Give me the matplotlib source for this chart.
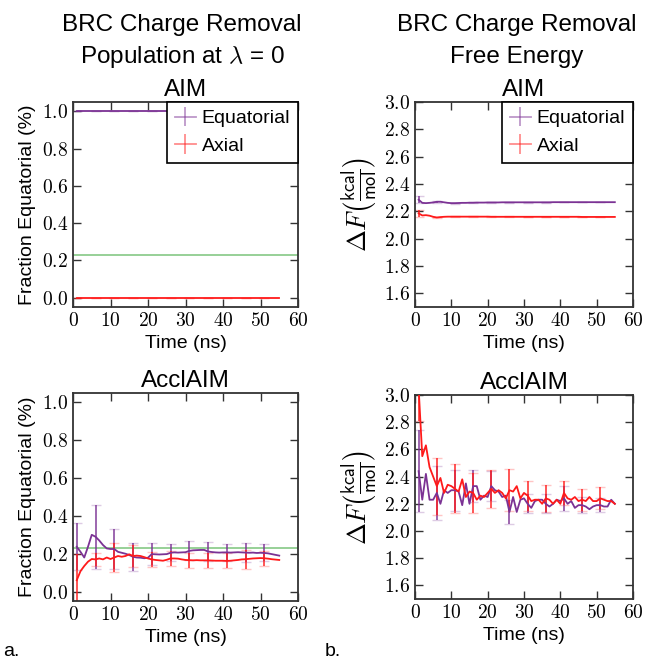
import numpy as np
import matplotlib
matplotlib.use('Agg')
import matplotlib.pyplot as plt
from matplotlib.ticker import FormatStrFormatter, MultipleLocator

plt.rcParams['font.family'] = ['Liberation Sans', 'DejaVu Sans']
plt.rcParams['mathtext.fontset'] = 'cm'

# time axis (ns)
time_ns = np.arange(1, 56)
err_step = 5

# reference fraction (green line)
ref_fraction = 0.228

# --- AIM population ---
aim_pop_eq = [1.0] * 55
aim_pop_ax = [0.0] * 55

# --- AcclAIM population ---
accl_pop_eq = [0.237, 0.21, 0.18, 0.237, 0.30, 0.29, 0.27, 0.246, 0.228, 0.225,
               0.225, 0.21, 0.205, 0.20, 0.193, 0.184, 0.18, 0.179, 0.176, 0.179,
               0.198, 0.197, 0.196, 0.197, 0.198, 0.205, 0.207, 0.206, 0.207, 0.208,
               0.215, 0.218, 0.219, 0.22, 0.22, 0.212, 0.209, 0.207, 0.206, 0.207,
               0.207, 0.206, 0.207, 0.208, 0.207, 0.206, 0.205, 0.206, 0.204, 0.205,
               0.204, 0.202, 0.198, 0.194, 0.19]
accl_pop_ax = [0.06, 0.108, 0.135, 0.158, 0.172, 0.17, 0.175, 0.17, 0.18, 0.172,
               0.18, 0.188, 0.184, 0.188, 0.197, 0.188, 0.19, 0.188, 0.182, 0.175,
               0.17, 0.167, 0.165, 0.163, 0.168, 0.175, 0.175, 0.174, 0.17, 0.167,
               0.166, 0.165, 0.166, 0.165, 0.165, 0.165, 0.164, 0.163, 0.163, 0.163,
               0.162, 0.163, 0.165, 0.167, 0.17, 0.171, 0.173, 0.175, 0.176, 0.177,
               0.176, 0.174, 0.171, 0.169, 0.167]
accl_pop_eq_err = [0.125, 0.17, 0.105, 0.075, 0.06, 0.045, 0.05, 0.048, 0.045, 0.05, 0.045]
accl_pop_ax_err = [0.14, 0.035, 0.078, 0.06, 0.04, 0.038, 0.04, 0.038, 0.04, 0.05, 0.04]

# --- AIM free energy ---
aim_fe_eq = [2.285, 2.262, 2.26, 2.262, 2.265, 2.27, 2.27, 2.266, 2.262, 2.26,
             2.26, 2.261, 2.262, 2.262, 2.263, 2.263, 2.264, 2.264, 2.264, 2.265,
             2.265, 2.265, 2.265, 2.266, 2.266, 2.266, 2.266, 2.266, 2.266, 2.266,
             2.266, 2.266, 2.266, 2.266, 2.266, 2.266, 2.266, 2.267, 2.267, 2.267,
             2.267, 2.267, 2.267, 2.267, 2.267, 2.267, 2.267, 2.267, 2.267, 2.267,
             2.267, 2.267, 2.267, 2.267, 2.267]
aim_fe_ax = [2.185, 2.17, 2.172, 2.168, 2.16, 2.155, 2.158, 2.16, 2.161, 2.161,
             2.161, 2.161, 2.161, 2.161, 2.161, 2.161, 2.161, 2.161, 2.161, 2.161,
             2.16, 2.16, 2.16, 2.16, 2.16, 2.16, 2.16, 2.16, 2.16, 2.16,
             2.16, 2.16, 2.16, 2.16, 2.16, 2.16, 2.16, 2.16, 2.16, 2.16,
             2.16, 2.16, 2.16, 2.16, 2.16, 2.159, 2.159, 2.159, 2.159, 2.159,
             2.159, 2.159, 2.159, 2.159, 2.159]
aim_fe_eq_err = [0.025, 0.006, 0.004, 0.003, 0.003, 0.003, 0.002, 0.002, 0.002, 0.002, 0.002]
aim_fe_ax_err = [0.025, 0.006, 0.004, 0.003, 0.003, 0.003, 0.002, 0.002, 0.002, 0.002, 0.002]

# --- AcclAIM free energy ---
accl_fe_eq = [2.44, 2.23, 2.42, 2.23, 2.23, 2.28, 2.20, 2.30, 2.28, 2.30,
              2.30, 2.29, 2.19, 2.35, 2.20, 2.33, 2.33, 2.23, 2.26, 2.25,
              2.33, 2.30, 2.29, 2.25, 2.26, 2.14, 2.25, 2.14, 2.23, 2.24,
              2.20, 2.17, 2.22, 2.23, 2.23, 2.20, 2.18, 2.20, 2.23, 2.22,
              2.24, 2.20, 2.22, 2.17, 2.19, 2.19, 2.18, 2.16, 2.18, 2.19,
              2.19, 2.18, 2.18, 2.23, 2.20]
accl_fe_ax = [3.05, 2.55, 2.63, 2.47, 2.40, 2.33, 2.39, 2.28, 2.34, 2.33,
              2.31, 2.29, 2.38, 2.25, 2.29, 2.28, 2.23, 2.26, 2.25, 2.28,
              2.31, 2.28, 2.30, 2.28, 2.24, 2.30, 2.29, 2.33, 2.24, 2.28,
              2.26, 2.22, 2.23, 2.23, 2.20, 2.24, 2.23, 2.20, 2.23, 2.20,
              2.28, 2.24, 2.23, 2.25, 2.22, 2.23, 2.22, 2.25, 2.22, 2.22,
              2.24, 2.23, 2.22, 2.22, 2.20]
accl_fe_eq_err = [0.30, 0.20, 0.15, 0.12, 0.11, 0.09, 0.07, 0.07, 0.09, 0.06, 0.05]
accl_fe_ax_err = [0.24, 0.21, 0.18, 0.15, 0.14, 0.155, 0.11, 0.10, 0.09, 0.08, 0.08]

purple = '#7b3294'
red = '#ff1a1a'


def draw(ax, y_eq, y_ax, e_eq, e_ax, legend=False):
    t_err = time_ns[::err_step]
    for y, e, c, lab in [(y_eq, e_eq, purple, 'Equatorial'), (y_ax, e_ax, red, 'Axial')]:
        y = np.asarray(y)
        ax.plot(time_ns, y, color=c, lw=1.3, zorder=3)
        eb = ax.errorbar(t_err, y[::err_step], yerr=e, fmt='none', ecolor=c,
                         elinewidth=1.3, capsize=3.5, alpha=0.8, zorder=2)
        for cap in eb[1]:
            cap.set_alpha(0.25)
        # proxy handle for legend
        ax.errorbar([], [], yerr=[], color=c, lw=1.3, capsize=3.5, alpha=0.5,
                    label=lab)
    if legend:
        leg = ax.legend(loc='upper right', borderaxespad=0, fancybox=False,
                        framealpha=1, edgecolor='black', fontsize=14,
                        handlelength=1.1, handletextpad=0.3, borderpad=0.4,
                        labelspacing=0.5)
        leg.get_frame().set_linewidth(1.2)


def style(ax, ylim, ystep, yfmt):
    ax.set_xlim(0, 60)
    ax.set_ylim(*ylim)
    ax.xaxis.set_major_locator(MultipleLocator(10))
    ax.yaxis.set_major_locator(MultipleLocator(ystep))
    ax.xaxis.set_major_formatter(FormatStrFormatter(r'$%d$'))
    ax.yaxis.set_major_formatter(FormatStrFormatter(yfmt))
    ax.tick_params(direction='in', top=True, right=True, length=6, width=1,
                   labelsize=14, color='#333333')
    for s in ax.spines.values():
        s.set_linewidth(1.3)
        s.set_color('#333333')
    ax.set_xlabel('Time (ns)', fontsize=14)


fig = plt.figure(figsize=(6.45, 6.6), dpi=100)
W, H = 645.0, 660.0
ax1 = fig.add_axes([73 / W, 1 - 307 / H, 225 / W, 205 / H])
ax2 = fig.add_axes([415 / W, 1 - 307 / H, 218 / W, 205 / H])
ax3 = fig.add_axes([73 / W, 1 - 601 / H, 225 / W, 208 / H])
ax4 = fig.add_axes([415 / W, 1 - 599 / H, 218 / W, 204 / H])

# population plots
for ax in (ax1, ax3):
    ax.axhline(ref_fraction, color='#66bb66', lw=1.2, alpha=0.8, zorder=1)
draw(ax1, aim_pop_eq, aim_pop_ax, [0] * 11, [0] * 11, legend=True)
draw(ax3, accl_pop_eq, accl_pop_ax, accl_pop_eq_err, accl_pop_ax_err)
for ax in (ax1, ax3):
    style(ax, (-0.05, 1.05), 0.2, r'$%.1f$')
    ax.set_ylabel('Fraction Equatorial (%)', fontsize=14, labelpad=4)

# free energy plots
draw(ax2, aim_fe_eq, aim_fe_ax, aim_fe_eq_err, aim_fe_ax_err, legend=True)
draw(ax4, accl_fe_eq, accl_fe_ax, accl_fe_eq_err, accl_fe_ax_err)
for ax in (ax2, ax4):
    style(ax, (1.5, 3.0), 0.2, r'$%.1f$')
    ax.set_ylabel(r'$\Delta F\left(\frac{\mathsf{kcal}}{\mathsf{mol}}\right)$',
                  fontsize=19, labelpad=2)

ax1.set_title('AIM', fontsize=17.5, pad=4)
ax2.set_title('AIM', fontsize=17.5, pad=4)
ax3.set_title('AcclAIM', fontsize=17.5, pad=4)
ax4.set_title('AcclAIM', fontsize=17.5, pad=4)

fig.text(182 / W, 1 - 25 / H, 'BRC Charge Removal', ha='center', va='center', fontsize=17.5)
fig.text(182 / W, 1 - 57 / H, r'Population at $\lambda$ = 0', ha='center', va='center', fontsize=17.5)
fig.text(517 / W, 1 - 25 / H, 'BRC Charge Removal', ha='center', va='center', fontsize=17.5)
fig.text(517 / W, 1 - 57 / H, 'Free Energy', ha='center', va='center', fontsize=17.5)

fig.text(3 / W, 1 - 652 / H, 'a.', ha='left', va='center', fontsize=14)
fig.text(325 / W, 1 - 652 / H, 'b.', ha='left', va='center', fontsize=14)

fig.savefig('out.png', dpi=100)
